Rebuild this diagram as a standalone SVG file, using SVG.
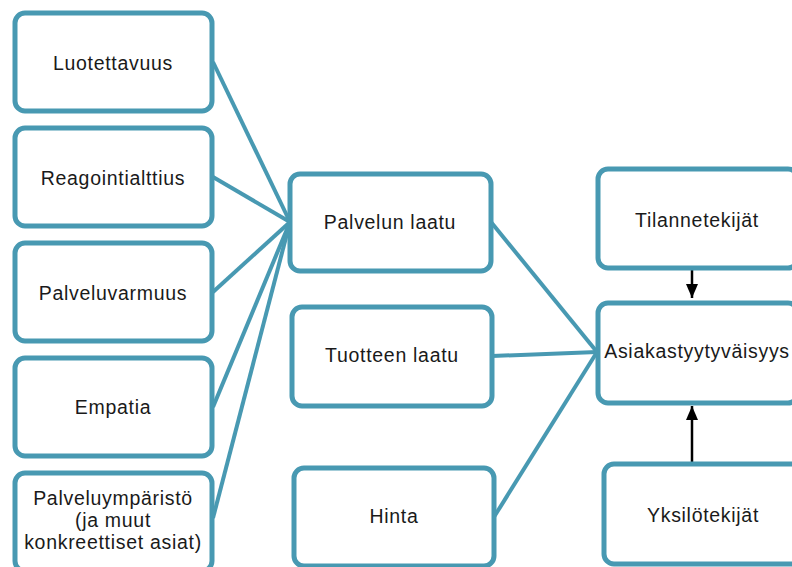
<svg xmlns="http://www.w3.org/2000/svg" width="792" height="567" viewBox="0 0 792 567">
<defs>
<style>
.box{fill:#fff;stroke:#4899B2;stroke-width:5}
.con{stroke:#4899B2;stroke-width:4;fill:none}
.arr{stroke:#000;stroke-width:2.5;fill:none}
text{font-family:"Liberation Sans",Arial,sans-serif;font-size:19.5px;letter-spacing:0.7px;fill:#1a1a1a;text-anchor:middle}
</style>
<marker id="ah" viewBox="0 0 14 12" refX="14" refY="6" markerWidth="14" markerHeight="12" orient="auto" markerUnits="userSpaceOnUse">
<path d="M0,0 L14,6 L0,12 z" fill="#000"/>
</marker>
</defs>
<rect width="792" height="567" fill="#fff"/>
<g id="connectors">
<line class="con" x1="213" y1="62" x2="290" y2="222"/>
<line class="con" x1="213" y1="177" x2="290" y2="222"/>
<line class="con" x1="213" y1="292" x2="290" y2="222"/>
<line class="con" x1="213" y1="407" x2="290" y2="222"/>
<line class="con" x1="213" y1="518" x2="290" y2="222"/>
<line class="con" x1="491" y1="222" x2="597" y2="352"/>
<line class="con" x1="492" y1="356" x2="597" y2="352"/>
<line class="con" x1="494" y1="517" x2="597" y2="352"/>
<line class="arr" x1="692" y1="268" x2="692" y2="298" marker-end="url(#ah)"/>
<line class="arr" x1="692" y1="463" x2="692" y2="406" marker-end="url(#ah)"/>
</g>
<g id="n1"><rect class="box" x="15" y="13" width="197" height="98" rx="10"/><text x="113" y="70">Luotettavuus</text></g>
<g id="n2"><rect class="box" x="15" y="128" width="197" height="98" rx="10"/><text x="113" y="185">Reagointialttius</text></g>
<g id="n3"><rect class="box" x="15" y="243" width="197" height="98" rx="10"/><text x="113" y="300">Palveluvarmuus</text></g>
<g id="n4"><rect class="box" x="15" y="358" width="197" height="98" rx="10"/><text x="113" y="414">Empatia</text></g>
<g id="n5"><rect class="box" x="15" y="473" width="197" height="98" rx="10"/><text x="113" y="505">Palveluympäristö</text><text x="113" y="527">(ja muut</text><text x="113" y="549">konkreettiset asiat)</text></g>
<g id="n6"><rect class="box" x="290" y="174" width="201" height="97" rx="10"/><text x="390" y="229">Palvelun laatu</text></g>
<g id="n7"><rect class="box" x="292" y="307" width="200" height="99" rx="10"/><text x="392" y="362">Tuotteen laatu</text></g>
<g id="n8"><rect class="box" x="294" y="468" width="200" height="98" rx="10"/><text x="394" y="523">Hinta</text></g>
<g id="n9"><rect class="box" x="598" y="169" width="200" height="99" rx="10"/><text x="697" y="227">Tilannetekijät</text></g>
<g id="n10"><rect class="box" x="598" y="303" width="200" height="100" rx="10"/><text x="697" y="358">Asiakastyytyväisyys</text></g>
<g id="n11"><rect class="box" x="604" y="464" width="200" height="100" rx="10"/><text x="703" y="522">Yksilötekijät</text></g>
</svg>
